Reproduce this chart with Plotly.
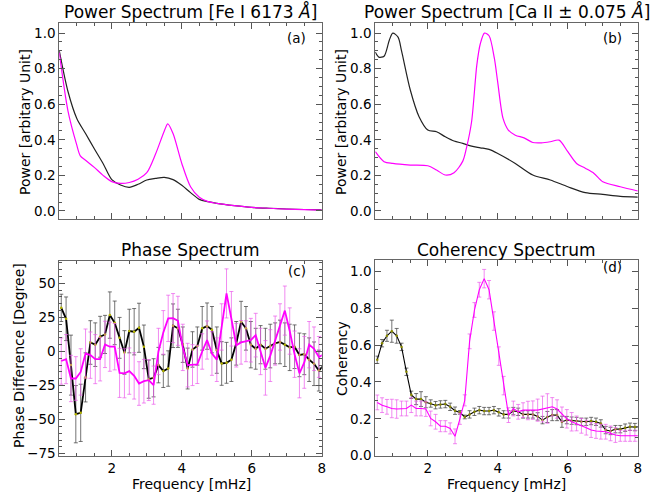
import plotly.graph_objects as go
from plotly.subplots import make_subplots

# ---------------- data ----------------
# Panel (a): power spectrum Fe I 6173
freq_a_black = [0.5, 0.75, 1.0, 1.25, 1.5, 1.75, 2.0, 2.25, 2.5, 2.75, 3.0, 3.25, 3.5, 3.75, 4.0, 4.25, 4.5, 4.75, 5.0, 5.5, 6.0, 6.5, 7.0, 7.5, 8.0]
power_a_black = [0.90, 0.67, 0.52, 0.435, 0.35, 0.267, 0.176, 0.146, 0.133, 0.15, 0.174, 0.183, 0.189, 0.176, 0.144, 0.103, 0.065, 0.052, 0.043, 0.03, 0.02, 0.015, 0.011, 0.008, 0.006]
freq_a_mag = [0.5, 0.75, 1.0, 1.1, 1.25, 1.5, 1.75, 2.0, 2.25, 2.5, 2.75, 3.0, 3.25, 3.5, 3.6, 3.75, 4.0, 4.25, 4.5, 4.75, 5.0, 5.5, 6.0, 6.5, 7.0, 7.5, 8.0]
power_a_mag = [0.89, 0.56, 0.37, 0.31, 0.285, 0.245, 0.2, 0.165, 0.155, 0.16, 0.178, 0.215, 0.32, 0.45, 0.49, 0.435, 0.267, 0.136, 0.077, 0.052, 0.043, 0.03, 0.02, 0.015, 0.01, 0.007, 0.005]

# Panel (b): power spectrum Ca II +/- 0.075
freq_b_black = [0.5, 0.6, 0.75, 0.9, 1.0, 1.15, 1.25, 1.5, 1.75, 2.0, 2.25, 2.5, 2.75, 3.0, 3.25, 3.5, 3.75, 4.0, 4.5, 5.0, 5.5, 6.0, 6.5, 7.0, 7.5, 8.0]
power_b_black = [0.893, 0.865, 0.87, 0.96, 1.0, 0.977, 0.9, 0.68, 0.53, 0.455, 0.445, 0.417, 0.393, 0.38, 0.364, 0.355, 0.346, 0.323, 0.267, 0.202, 0.174, 0.136, 0.103, 0.093, 0.082, 0.078]
freq_b_mag = [0.5, 0.75, 1.0, 1.5, 2.0, 2.25, 2.5, 2.75, 3.0, 3.1, 3.25, 3.4, 3.5, 3.62, 3.75, 3.9, 4.0, 4.15, 4.3, 4.5, 4.75, 5.0, 5.25, 5.5, 5.75, 6.0, 6.25, 6.5, 6.75, 7.0, 7.5, 8.0]
power_b_mag = [0.333, 0.277, 0.267, 0.258, 0.254, 0.23, 0.202, 0.215, 0.28, 0.35, 0.5, 0.82, 0.94, 1.0, 0.985, 0.86, 0.72, 0.52, 0.455, 0.426, 0.411, 0.385, 0.383, 0.389, 0.398, 0.333, 0.267, 0.24, 0.211, 0.164, 0.136, 0.112]

# Panels (c) and (d): frequency bins
freq_cd = [0.556, 0.694, 0.833, 0.972, 1.111, 1.250, 1.389, 1.528, 1.667, 1.806,
           1.944, 2.083, 2.222, 2.361, 2.500, 2.639, 2.778, 2.917, 3.056, 3.194,
           3.333, 3.472, 3.611, 3.750, 3.889, 4.028, 4.167, 4.306, 4.444, 4.583,
           4.722, 4.861, 5.000, 5.139, 5.278, 5.417, 5.556, 5.694, 5.833, 5.972,
           6.111, 6.250, 6.389, 6.528, 6.667, 6.806, 6.944, 7.083, 7.222, 7.361,
           7.500, 7.639, 7.778, 7.917, 8.056]

phase_black = [32, 24, -10, -46, -45, -19, 6.6, 5, 10.8, 12.5,
               26.7, 21, 10, -0.7, 15, 14.5, 17.4, 3.4, -20.3, -19.3,
               -10, -14.4, -12.5, 18.9, 17, 5, -12.5, 1.5, 4, 17,
               18.6, 16, 1, -8.8, -8.3, -6, 6, 21.8, 17, 5,
               2, 5, 2, 4, 6, 7, 5, 3, 3.5, -2.5,
               -2, -6, -9, -14, -10]
phase_black_err = [10, 16, 22, 21, 21, 18, 16, 16, 15, 14,
                   17, 16, 15, 16, 16, 17, 18, 16, 14, 14,
                   13, 12, 13, 16, 14, 13, 15, 13, 14, 16,
                   17, 17, 17, 16, 15, 16, 16, 15, 16, 17,
                   15, 14, 15, 16, 15, 16, 16, 17, 16, 16,
                   15, 16, 16, 15, 16]
phase_mag = [-7, -5.6, -19.8, -19.8, -15, -1.5, -2.7, -5.6, -5.6, 5.2,
             3.5, 3.5, -15.7, -16, -14.4, -17.9, -23.5, -21.8, -21, -24.7,
             0, 14, 24.3, 24.5, 22.5, 3, -10, -10, -9.5, 0,
             8.4, -1.5, -6, 18, 42.6, 24, 4.6, 6.7, 7.5, 8.3,
             12, 0, -12, -3, 8, 18, 30, 15, -2, -16,
             -8, 5, 2, -4, -2]
phase_mag_err = [17, 18, 17, 16, 17, 18, 17, 18, 16, 17,
                 18, 17, 18, 18, 17, 17, 16, 16, 15, 14,
                 17, 16, 17, 18, 18, 17, 16, 15, 14, 13,
                 14, 16, 16, 17, 18, 20, 16, 16, 15, 16,
                 16, 17, 20, 19, 18, 17, 18, 17, 17, 18,
                 19, 17, 16, 15, 14]

coh_black = [0.52, 0.61, 0.65, 0.675, 0.65, 0.59, 0.455, 0.33, 0.307, 0.307,
             0.29, 0.283, 0.274, 0.278, 0.28, 0.265, 0.244, 0.235, 0.21, 0.224,
             0.238, 0.247, 0.242, 0.242, 0.247, 0.235, 0.224, 0.224, 0.242, 0.238,
             0.224, 0.224, 0.224, 0.213, 0.193, 0.21, 0.22, 0.22, 0.184, 0.193,
             0.19, 0.188, 0.184, 0.184, 0.188, 0.184, 0.175, 0.139, 0.134, 0.144,
             0.144, 0.152, 0.157, 0.155, 0.157]
coh_black_err = [0.02, 0.02, 0.03, 0.06, 0.04, 0.02, 0.02, 0.02, 0.03, 0.04,
                 0.03, 0.02, 0.02, 0.02, 0.02, 0.02, 0.02, 0.01, 0.01, 0.02,
                 0.02, 0.02, 0.02, 0.02, 0.02, 0.02, 0.02, 0.02, 0.02, 0.02,
                 0.02, 0.02, 0.02, 0.02, 0.02, 0.03, 0.03, 0.03, 0.03, 0.02,
                 0.02, 0.02, 0.02, 0.02, 0.02, 0.02, 0.02, 0.02, 0.02, 0.02,
                 0.02, 0.02, 0.02, 0.02, 0.02]
coh_mag = [0.289, 0.274, 0.265, 0.256, 0.253, 0.256, 0.256, 0.274, 0.256, 0.256,
           0.253, 0.202, 0.184, 0.16, 0.16, 0.148, 0.105, 0.2, 0.3, 0.62,
           0.79, 0.9, 0.96, 0.9, 0.73, 0.54, 0.38, 0.22, 0.256, 0.238,
           0.247, 0.245, 0.247, 0.247, 0.253, 0.256, 0.265, 0.253, 0.224, 0.2,
           0.184, 0.175, 0.162, 0.152, 0.139, 0.134, 0.13, 0.13, 0.121, 0.112,
           0.108, 0.108, 0.108, 0.108, 0.108]
coh_mag_err = [0.04, 0.04, 0.04, 0.05, 0.05, 0.04, 0.04, 0.04, 0.04, 0.04,
               0.04, 0.04, 0.04, 0.03, 0.03, 0.03, 0.04, 0.03, 0.03, 0.04,
               0.04, 0.04, 0.05, 0.05, 0.05, 0.05, 0.05, 0.04, 0.04, 0.04,
               0.04, 0.05, 0.05, 0.06, 0.07, 0.08, 0.05, 0.05, 0.04, 0.05,
               0.05, 0.04, 0.04, 0.04, 0.04, 0.04, 0.04, 0.04, 0.04, 0.04,
               0.03, 0.03, 0.03, 0.03, 0.03]

titles = ["Power Spectrum [Fe I 6173 <i>Å</i>]", "Power Spectrum [Ca II ± 0.075 <i>Å</i>]",
          "Phase Spectrum", "Coherency Spectrum"]
panel_tags = ["(a)", "(b)", "(c)", "(d)"]

# ---------------- figure ----------------
FONT = "DejaVu Sans"
W, H = 667, 496
MAG = "#ff00ff"
BLK = "#000000"

fig = make_subplots(rows=2, cols=2)

# panel a
fig.add_trace(go.Scatter(x=freq_a_black, y=power_a_black, mode="lines",
                         line=dict(color="#222222", width=1.2, shape="spline", smoothing=0.8)), row=1, col=1)
fig.add_trace(go.Scatter(x=freq_a_mag, y=power_a_mag, mode="lines",
                         line=dict(color=MAG, width=1.2, shape="spline", smoothing=0.8)), row=1, col=1)
# panel b
fig.add_trace(go.Scatter(x=freq_b_black, y=power_b_black, mode="lines",
                         line=dict(color="#222222", width=1.2, shape="spline", smoothing=0.8)), row=1, col=2)
fig.add_trace(go.Scatter(x=freq_b_mag, y=power_b_mag, mode="lines",
                         line=dict(color=MAG, width=1.2, shape="spline", smoothing=0.8)), row=1, col=2)

# panel c
fig.add_trace(go.Scatter(x=freq_cd, y=phase_black, mode="lines+markers",
                         line=dict(color=BLK, width=1.8),
                         marker=dict(size=2.5, color="#b5b500"),
                         error_y=dict(type="data", array=phase_black_err, visible=True,
                                      color="rgba(70,70,70,0.75)", thickness=1, width=2)),
              row=2, col=1)
fig.add_trace(go.Scatter(x=freq_cd, y=phase_mag, mode="lines",
                         line=dict(color=MAG, width=1.8),
                         error_y=dict(type="data", array=phase_mag_err, visible=True,
                                      color="rgba(235,90,235,0.7)", thickness=1, width=2)),
              row=2, col=1)

# panel d
fig.add_trace(go.Scatter(x=freq_cd, y=coh_black, mode="lines+markers",
                         line=dict(color=BLK, width=1.1),
                         marker=dict(size=2.5, color="#8a8a00"),
                         error_y=dict(type="data", array=coh_black_err, visible=True,
                                      color="rgba(70,70,70,0.75)", thickness=1, width=2)),
              row=2, col=2)
fig.add_trace(go.Scatter(x=freq_cd, y=coh_mag, mode="lines",
                         line=dict(color=MAG, width=1.1),
                         error_y=dict(type="data", array=coh_mag_err, visible=True,
                                      color="rgba(235,90,235,0.7)", thickness=1, width=2)),
              row=2, col=2)

# domains (pixel based)
def xd(a, b):
    return [a / W, b / W]

def yd(top, bot):
    return [(H - bot) / H, (H - top) / H]

xdom = [xd(59.3, 321.8), xd(375.3, 637.8), xd(59.3, 321.8), xd(375.3, 637.8)]
ydom = [yd(23.3, 219.3), yd(23.3, 219.3), yd(260.7, 455.5), yd(260.2, 455.7)]
yranges = [[-0.047, 1.055], [-0.047, 1.055], [-76.3, 66.6], [0, 1.06]]
ydticks = [0.2, 0.2, 25, 0.2]
yminor = [0.05, 0.05, 5, 0.1]

axis_style = dict(showline=True, linecolor="#666666", linewidth=1, mirror="allticks",
                  ticks="inside", ticklen=6, tickwidth=1, tickcolor="#555555",
                  showgrid=False, zeroline=False, automargin=False,
                  tickfont=dict(family=FONT, size=13.5, color="black"))

for i in range(4):
    sfx = "" if i == 0 else str(i + 1)
    fig.layout["xaxis" + sfx].update(
        domain=xdom[i], range=[0.5, 8], tick0=0, dtick=2,
        showticklabels=(i >= 2),
        minor=dict(ticks="inside", ticklen=3, tickcolor="#555555", dtick=0.5, tick0=0, showgrid=False),
        **axis_style)
    fig.layout["yaxis" + sfx].update(
        domain=ydom[i], range=yranges[i], tick0=0, dtick=ydticks[i],
        tickformat=".1f" if i != 2 else "d",
        minor=dict(ticks="inside", ticklen=3, tickcolor="#555555", dtick=yminor[i], tick0=0, showgrid=False),
        **axis_style)

annotations = []
title_y = [12, 12, 250, 250]
for i in range(4):
    cx = (xdom[i][0] + xdom[i][1]) / 2
    annotations.append(dict(text=titles[i], x=cx, y=1 - title_y[i] / H, xref="paper", yref="paper",
                            showarrow=False, xanchor="center", yanchor="middle",
                            font=dict(family=FONT, size=17, color="black")))

tag_pos = [(296, 38), (612, 38), (297, 271), (612, 267)]
for i in range(4):
    annotations.append(dict(text=panel_tags[i], x=tag_pos[i][0] / W, y=1 - tag_pos[i][1] / H,
                            xref="paper", yref="paper", showarrow=False,
                            xanchor="center", yanchor="middle",
                            font=dict(family=FONT, size=13.5, color="black")))

ylabels = [("Power [arbitary Unit]", 25, 122), ("Power [arbitary Unit]", 341, 122),
           ("Phase Difference [Degree]", 19, 356), ("Coherency", 342, 359)]
for txt, px, py in ylabels:
    annotations.append(dict(text=txt, x=px / W, y=1 - py / H, xref="paper", yref="paper",
                            showarrow=False, textangle=-90, xanchor="center", yanchor="middle",
                            font=dict(family=FONT, size=14, color="black")))

for px in (191, 507):
    annotations.append(dict(text="Frequency [mHz]", x=px / W, y=1 - 484 / H, xref="paper", yref="paper",
                            showarrow=False, xanchor="center", yanchor="middle",
                            font=dict(family=FONT, size=14, color="black")))

fig.update_layout(width=W, height=H, margin=dict(l=0, r=0, t=0, b=0),
                  paper_bgcolor="white", plot_bgcolor="white", showlegend=False,
                  annotations=annotations, font=dict(family=FONT, color="black"))

fig.write_html("out.html", config={"displayModeBar": False},
               post_script="document.body.style.margin='0px';")
